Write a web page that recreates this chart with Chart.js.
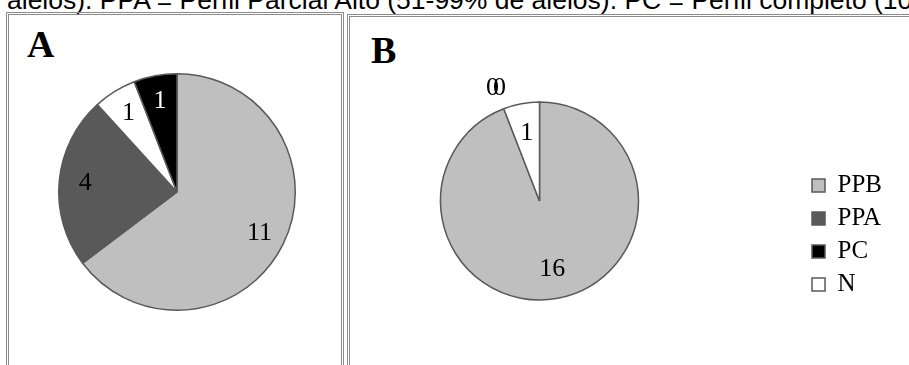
<!DOCTYPE html>
<html>
<head>
<meta charset="utf-8">
<script src="https://cdn.jsdelivr.net/npm/chart.js@4/dist/chart.umd.min.js"></script>
<style>
  body { margin: 0; width: 909px; height: 365px; overflow: hidden; background: #fff; position: relative; }
  .caption { position: absolute; left: 7px; top: -13px; font: 26.5px "Liberation Sans", Arial, sans-serif; line-height: 26.5px; white-space: nowrap; color: #000; }
  .panel { position: absolute; border: 3px double #8c8c8c; box-sizing: border-box; }
  #panelA { left: 6px; top: 12px; width: 338px; height: 420px; }
  #panelB { left: 347px; top: 14px; width: 600px; height: 420px; }
  .tag { position: absolute; font: bold 38px "Liberation Serif", serif; line-height: 38px; color: #000; }
  canvas { position: absolute; top: 0; }
  #pieA { left: 0; }
  #pieB { left: 270px; }
</style>
</head>
<body>
<div class="caption">alelos). PPA = Perfil Parcial Alto (51-99% de alelos). PC = Perfil completo (100% de alelos). N = Negativo</div>
<div class="panel" id="panelA"></div>
<div class="panel" id="panelB"></div>
<div class="tag" style="left:27px; top:25px;">A</div>
<div class="tag" style="left:371px; top:31px;">B</div>
<canvas id="pieA" width="345" height="365"></canvas>
<canvas id="pieB" width="639" height="365"></canvas>
<script>
// categories and their fill colours
const categories = ['PPB', 'PPA', 'PC', 'N'];
const sliceColors = ['#bfbfbf', '#595959', '#000000', '#ffffff'];

// panel A: slices run PPB, PPA, N, PC clockwise
const categoriesA = ['PPB', 'PPA', 'N', 'PC'];
const valuesA = [11, 4, 1, 1];

// panel B
const categoriesB = ['PPB', 'PPA', 'PC', 'N'];
const valuesB = [16, 0, 0, 1];

const colorOf = c => sliceColors[categories.indexOf(c)];

Chart.defaults.font.family = '"Liberation Serif", serif';
Chart.defaults.color = '#000';

// writes each slice's value on it; empty slices get theirs just outside the rim
const valueLabels = {
  id: 'valueLabels',
  afterDatasetsDraw(chart, args, opts) {
    const ctx = chart.ctx;
    const ds = chart.data.datasets[0];
    const arcs = chart.getDatasetMeta(0).data;
    const zeros = [];
    ds.data.forEach((v, i) => { if (v === 0) zeros.push(i); });
    ctx.save();
    ctx.font = '26px "Liberation Serif", serif';
    ctx.textAlign = 'center';
    ctx.textBaseline = 'middle';
    arcs.forEach((arc, i) => {
      const v = ds.data[i];
      const p = arc.getProps(['x', 'y', 'startAngle', 'endAngle', 'outerRadius'], true);
      const mid = (p.startAngle + p.endAngle) / 2;
      let r = p.outerRadius * opts.ratio;
      let dx = 0;
      let fill = ds.backgroundColor[i] === '#000000' ? '#ffffff' : '#000000';
      if (v === 0) {
        r = p.outerRadius * 1.22;
        dx = (zeros.indexOf(i) - (zeros.length - 1) / 2) * 7;
        fill = '#000000';
      }
      ctx.fillStyle = fill;
      ctx.fillText(String(v), p.x + Math.cos(mid) * r + dx, p.y + Math.sin(mid) * r);
    });
    ctx.restore();
  }
};

new Chart(document.getElementById('pieA'), {
  type: 'pie',
  data: {
    labels: categoriesA,
    datasets: [{
      data: valuesA,
      backgroundColor: categoriesA.map(colorOf),
      borderColor: '#595959',
      borderWidth: 1.5
    }]
  },
  options: {
    responsive: false,
    animation: false,
    layout: { padding: { left: 58, right: 49, top: 73, bottom: 54 } },
    plugins: {
      legend: { display: false },
      tooltip: { enabled: false },
      valueLabels: { ratio: 0.78 }
    }
  },
  plugins: [valueLabels]
});

new Chart(document.getElementById('pieB'), {
  type: 'pie',
  data: {
    labels: categoriesB,
    datasets: [{
      data: valuesB,
      backgroundColor: categoriesB.map(colorOf),
      borderColor: '#595959',
      borderWidth: 1.5
    }]
  },
  options: {
    responsive: false,
    animation: false,
    radius: 99,
    layout: { padding: { left: 5, right: 17, top: 97, bottom: 60 } },
    plugins: {
      legend: {
        position: 'right',
        align: 'end',
        fullSize: false,
        labels: {
          boxWidth: 13,
          boxHeight: 13,
          padding: 8,
          color: '#000',
          font: { size: 25 }
        }
      },
      tooltip: { enabled: false },
      valueLabels: { ratio: 0.7 }
    }
  },
  plugins: [valueLabels]
});
</script>
</body>
</html>
